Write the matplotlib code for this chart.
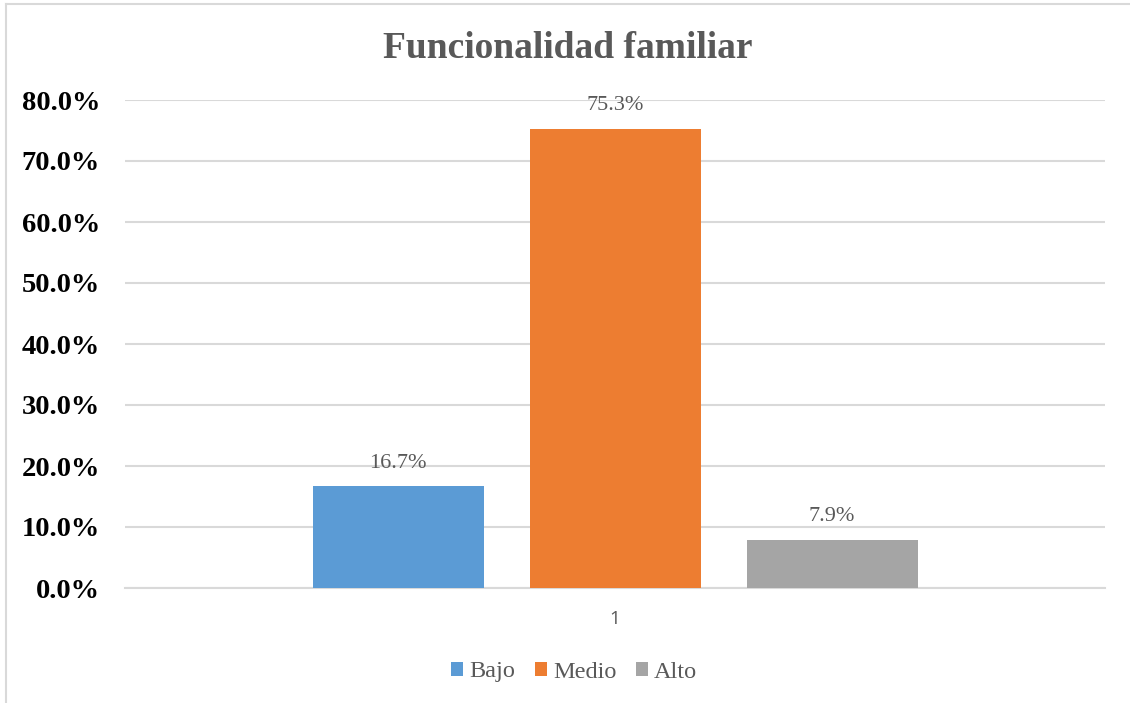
import matplotlib
matplotlib.use("Agg")
import matplotlib.pyplot as plt
from matplotlib.lines import Line2D
from matplotlib.patches import Patch

title = "Funcionalidad familiar"
series = ["Bajo", "Medio", "Alto"]
values = [16.7, 75.3, 7.9]
colors = ["#5B9BD5", "#ED7D31", "#A5A5A5"]
category = ["1"]
yticks = [0, 10, 20, 30, 40, 50, 60, 70, 80]

W, H = 1130, 703
fig = plt.figure(figsize=(W / 100, H / 100), dpi=100)
ax = fig.add_axes([125 / W, 1 - 588 / H, 980 / W, 488 / H])

serif = "Liberation Serif"
gray_txt = "#595959"

step = 217 / 980
width = 171 / 980
for i, (s, v, c) in enumerate(zip(series, values, colors)):
    x = (i - 1) * step
    ax.bar(x, v, width=width, color=c, label=s, zorder=3)
    ax.text(x, v + 2.2, f"{v:.1f}%", ha="center", va="bottom",
            fontsize=16, family=serif, color=gray_txt)

ax.set_xlim(-0.5, 0.5)
ax.set_ylim(0, 80)
ax.set_yticks(yticks)
ax.set_yticklabels([f"{t:.1f}%" for t in yticks], family=serif,
                   fontweight="bold", fontsize=20.5, color="black")
ax.set_xticks([0])
ax.set_xticklabels(category, family="Open Sans", fontsize=13.5, color=gray_txt)
ax.tick_params(axis="both", length=0)
ax.tick_params(axis="y", pad=18)
ax.tick_params(axis="x", pad=16)
ax.grid(axis="y", color="#D9D9D9", linewidth=1.5, zorder=0)
for sp in ["top", "right", "left"]:
    ax.spines[sp].set_visible(False)
ax.spines["bottom"].set_color("#D9D9D9")
ax.spines["bottom"].set_linewidth(1.5)

fig.text(568 / W, 1 - 48 / H, title, ha="center", va="center",
         family=serif, fontweight="bold", fontsize=27, color=gray_txt)

handles = [Patch(facecolor=c, edgecolor="none") for c in colors]
leg = fig.legend(handles, series, loc="center", bbox_to_anchor=(574 / W, 1 - 672 / H),
                 ncol=3, frameon=False, prop={"family": serif, "size": 17.5},
                 handlelength=0.5, handleheight=0.5, handletextpad=0.25,
                 columnspacing=0.8)
for t in leg.get_texts():
    t.set_color(gray_txt)

# chart border (partially visible)
fig.add_artist(Line2D([6 / W, 6 / W], [0, 1 - 4 / H], transform=fig.transFigure,
                      color="#D9D9D9", linewidth=1.5))
fig.add_artist(Line2D([6 / W, 1], [1 - 4 / H, 1 - 4 / H], transform=fig.transFigure,
                      color="#D9D9D9", linewidth=1.5))

fig.savefig("out.png", dpi=100)
